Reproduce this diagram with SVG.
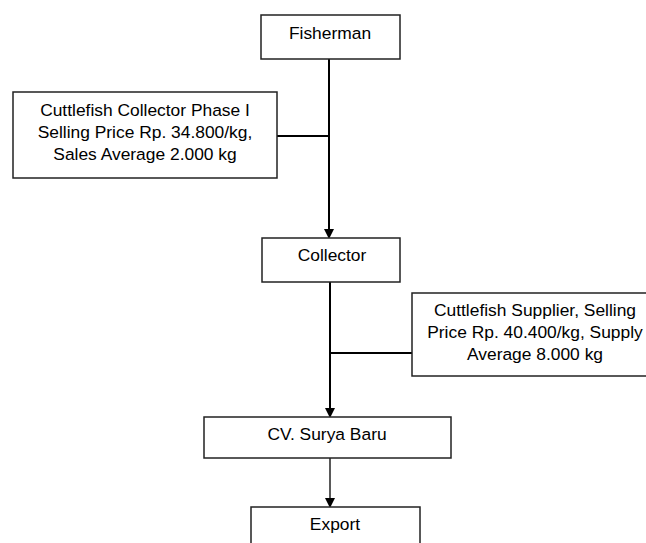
<svg xmlns="http://www.w3.org/2000/svg" width="646" height="543" viewBox="0 0 646 543">
<defs>
<style>
.box{fill:#fff;stroke:#222;stroke-width:1.5}
.t{font-family:"Liberation Sans",Arial,sans-serif;font-size:17.4px;fill:#000;text-anchor:middle}
.ln{stroke:#000;stroke-width:2;fill:none}
.thin{stroke:#000;stroke-width:1.3;fill:none}
</style>
<marker id="ah" markerWidth="10" markerHeight="10" refX="8" refY="5" orient="auto" markerUnits="userSpaceOnUse">
<path d="M0,0 L10,5 L0,10 Z" fill="#000"/>
</marker>
</defs>
<rect width="646" height="543" fill="#fff"/>
<g id="connectors">
<line class="ln" x1="329" y1="59" x2="329" y2="237" marker-end="url(#ah)"/>
<line class="ln" x1="277" y1="136" x2="329" y2="136"/>
<line class="ln" x1="330" y1="282" x2="330" y2="416" marker-end="url(#ah)"/>
<line class="ln" x1="330" y1="353" x2="412" y2="353"/>
<line class="thin" x1="330" y1="458" x2="330" y2="506" marker-end="url(#ah)"/>
</g>
<g id="fisherman">
<rect class="box" x="261" y="15" width="139" height="44"/>
<text class="t" x="330" y="39">Fisherman</text>
</g>
<g id="collector-phase">
<rect class="box" x="13" y="92" width="264" height="86"/>
<text class="t" x="145" y="116">Cuttlefish Collector Phase I</text>
<text class="t" x="145" y="138">Selling Price Rp. 34.800/kg,</text>
<text class="t" x="145" y="160">Sales Average 2.000 kg</text>
</g>
<g id="collector">
<rect class="box" x="262" y="238" width="138" height="44"/>
<text class="t" x="332" y="261">Collector</text>
</g>
<g id="supplier">
<rect class="box" x="412" y="293" width="240" height="83"/>
<text class="t" x="535" y="316">Cuttlefish Supplier, Selling</text>
<text class="t" x="535" y="338">Price Rp. 40.400/kg, Supply</text>
<text class="t" x="535" y="360">Average 8.000 kg</text>
</g>
<g id="cv">
<rect class="box" x="204" y="417" width="247" height="41"/>
<text class="t" x="327" y="440">CV. Surya Baru</text>
</g>
<g id="export">
<rect class="box" x="251" y="507" width="169" height="50"/>
<text class="t" x="335" y="530">Export</text>
</g>
</svg>
